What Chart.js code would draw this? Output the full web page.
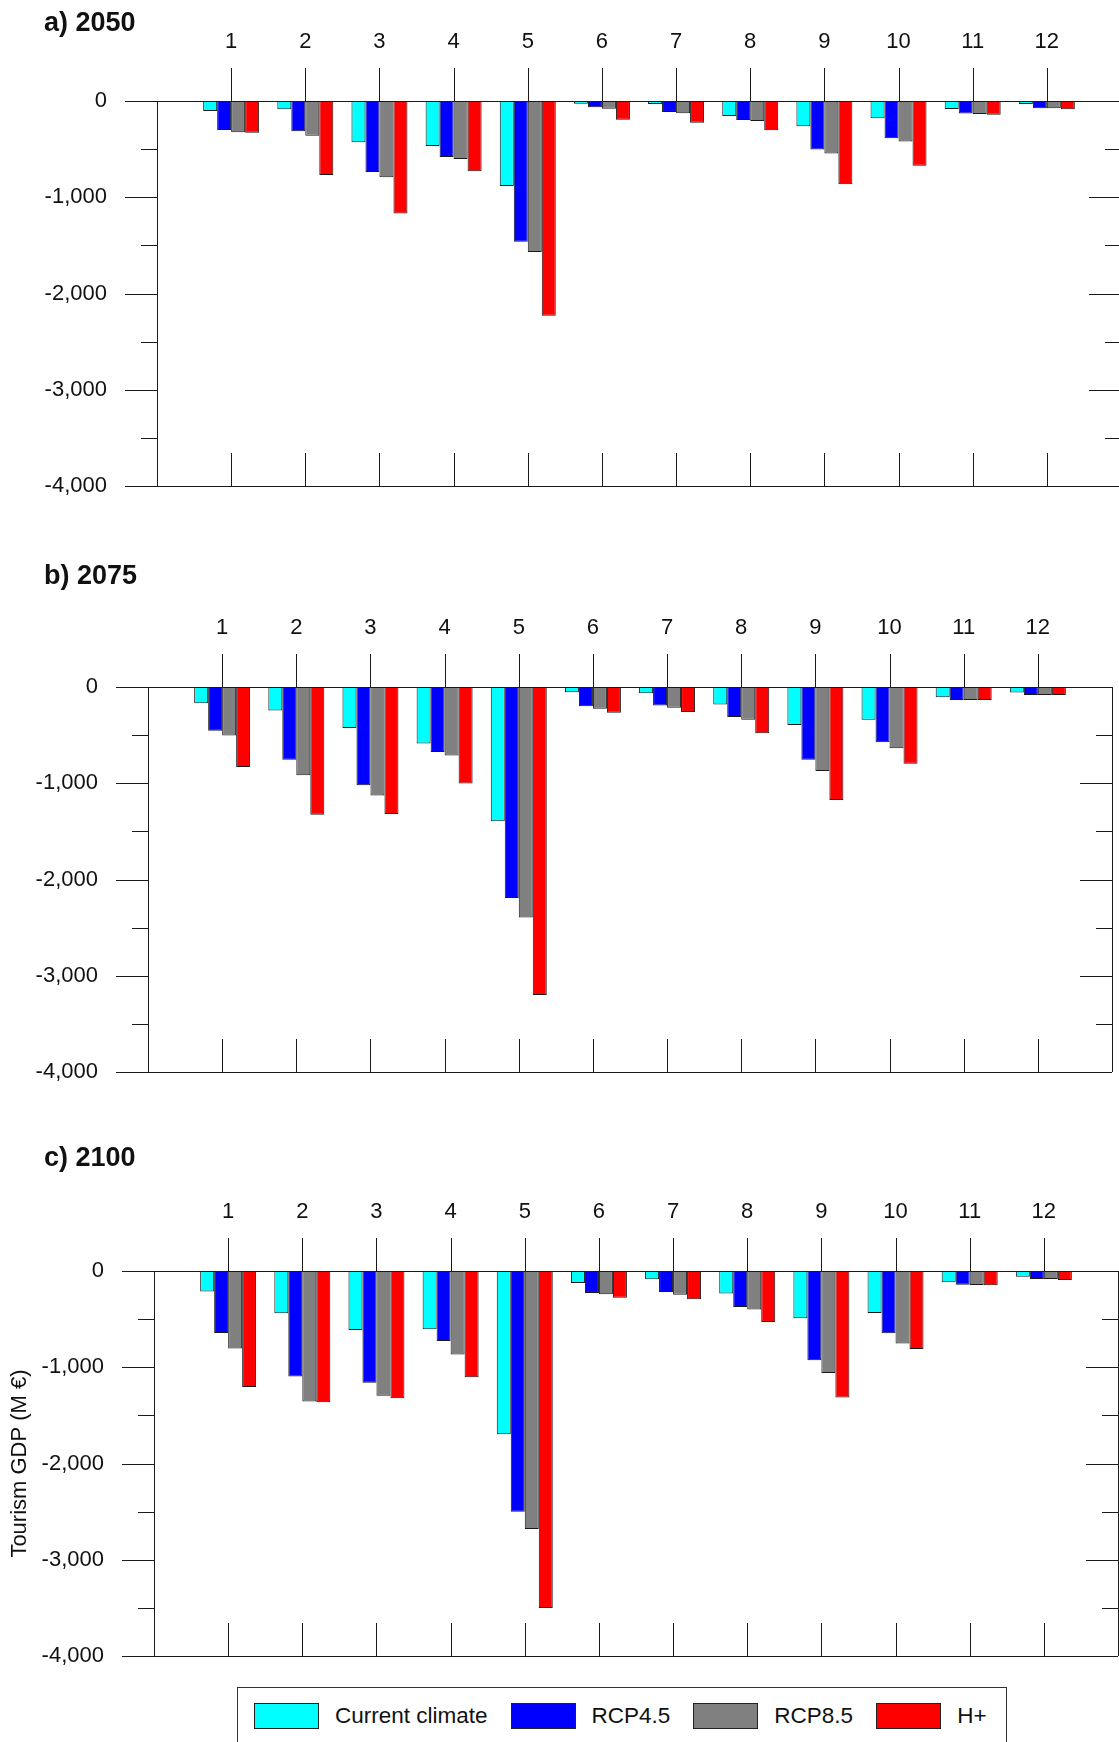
<!DOCTYPE html>
<html>
<head>
<meta charset="utf-8">
<title>Tourism GDP change by region</title>
<script src="https://cdn.jsdelivr.net/npm/chart.js@4.4.1/dist/chart.umd.min.js"></script>
<style>
  html, body { margin: 0; padding: 0; background: #fff; width: 1119px; height: 1742px; overflow: hidden; }
  canvas.panel { position: absolute; left: 0; }
  #legend {
    position: absolute; left: 237px; top: 1687px; width: 770px; height: 80px;
    box-sizing: border-box; border: 1px solid #333; background: #fff;
    display: flex; align-items: flex-start; padding: 15px 0 0 16px;
    font: 22.5px "Liberation Sans", Arial, sans-serif; color: #111; white-space: nowrap;
  }
  #legend .item { display: flex; align-items: center; flex: none; margin-right: 23px; height: 26px; }
  #legend .swatch { width: 65px; height: 26px; box-sizing: border-box; border: 1px solid #222; margin-right: 16px; flex: none; }
</style>
</head>
<body>
<canvas id="chart2050" class="panel" width="1130" height="510" style="top:0px"></canvas>
<canvas id="chart2075" class="panel" width="1119" height="550" style="top:540px"></canvas>
<canvas id="chart2100" class="panel" width="1119" height="560" style="top:1110px"></canvas>
<div id="legend"></div>
<script>
// Regions (x categories)
const regions = [1, 2, 3, 4, 5, 6, 7, 8, 9, 10, 11, 12];

// Series names and fill colours
const seriesNames = ['Current climate', 'RCP4.5', 'RCP8.5', 'H+'];
const seriesColors = ['#00FFFF', '#0000FF', '#808080', '#FF0000'];

// Change in tourism GDP (M €), 2050
const current2050 = [-104, -86, -429, -467, -882, -28, -31, -156, -263, -180, -83, -31];
const rcp45_2050  = [-301, -315, -737, -581, -1463, -66, -114, -197, -505, -387, -131, -76];
const rcp85_2050  = [-325, -360, -792, -602, -1570, -80, -128, -207, -546, -422, -135, -76];
const hplus2050   = [-329, -768, -1169, -730, -2230, -194, -225, -304, -864, -674, -142, -86];

// 2075
const current2075 = [-168, -243, -426, -587, -1395, -54, -64, -182, -394, -340, -107, -57];
const rcp45_2075  = [-454, -755, -1020, -676, -2193, -200, -193, -311, -755, -573, -136, -82];
const rcp85_2075  = [-504, -916, -1127, -712, -2394, -225, -215, -340, -873, -637, -136, -82];
const hplus2075   = [-830, -1327, -1320, -1002, -3199, -268, -261, -480, -1173, -798, -136, -82];

// 2100
const current2100 = [-212, -440, -614, -604, -1696, -125, -87, -235, -491, -436, -118, -59];
const rcp45_2100  = [-645, -1096, -1162, -728, -2501, -228, -218, -374, -927, -647, -142, -83];
const rcp85_2100  = [-805, -1356, -1297, -867, -2681, -242, -246, -401, -1059, -754, -145, -83];
const hplus2100   = [-1204, -1363, -1322, -1103, -3500, -277, -294, -529, -1315, -810, -149, -93];

// Value axis range and tick step
const yMin = -4000, yMax = 0, yStep = 500, yLabelStep = 1000;

Chart.defaults.font.family = '"Liberation Sans", Arial, sans-serif';
Chart.defaults.font.size = 22;
Chart.defaults.color = '#111';

const INK = '#1a1a1a';

// Tick marks: outward on the left axis, inward on the right axis,
// category marks above the zero line and up from the bottom frame.
const axisMarks = {
  id: 'axisMarks',
  afterDraw(chart) {
    const { ctx, chartArea: a, scales: { x, y } } = chart;
    const px = v => Math.round(v) + 0.5;
    ctx.save();
    ctx.strokeStyle = INK;
    ctx.lineWidth = 1;
    ctx.beginPath();
    y.ticks.forEach(t => {
      const yy = px(y.getPixelForValue(t.value));
      const len = t.value % yLabelStep === 0 ? 32 : 16;
      ctx.moveTo(a.left - len, yy); ctx.lineTo(a.left, yy);
      ctx.moveTo(a.right - len, yy); ctx.lineTo(a.right, yy);
    });
    x.ticks.forEach(t => {
      const xx = px(x.getPixelForValue(t.value));
      ctx.moveTo(xx, a.top - 33); ctx.lineTo(xx, a.top);
      ctx.moveTo(xx, a.bottom - 33); ctx.lineTo(xx, a.bottom);
    });
    const zero = px(y.getPixelForValue(0));
    ctx.moveTo(a.left, zero); ctx.lineTo(a.right, zero);
    ctx.moveTo(a.left, px(a.bottom)); ctx.lineTo(a.right, px(a.bottom));
    ctx.moveTo(px(a.right), a.top); ctx.lineTo(px(a.right), a.bottom);
    ctx.stroke();
    ctx.restore();
  }
};

// Panel heading such as "a) 2050"
const panelTitle = {
  id: 'panelTitle',
  afterDraw(chart, args, opts) {
    if (!opts || !opts.text) return;
    const { ctx } = chart;
    ctx.save();
    ctx.font = 'bold 27px "Liberation Sans", Arial, sans-serif';
    ctx.fillStyle = '#111';
    ctx.textBaseline = 'middle';
    ctx.textAlign = 'left';
    ctx.fillText(opts.text, opts.x, opts.y);
    ctx.restore();
  }
};

function makePanel(canvasId, heading, series, layout) {
  const datasets = series.map((vals, k) => ({
    label: seriesNames[k],
    data: regions.map((r, i) => ({ x: r, y: vals[i] })),
    backgroundColor: seriesColors[k],
    borderColor: INK,
    borderWidth: 1,
    borderSkipped: 'start',
    barPercentage: 1,
    categoryPercentage: 0.755
  }));

  return new Chart(document.getElementById(canvasId), {
    type: 'bar',
    data: { datasets },
    options: {
      responsive: false,
      animation: false,
      events: [],
      layout: { padding: { left: 0, top: 0, right: layout.padRight, bottom: layout.padBottom } },
      plugins: {
        legend: { display: false },
        tooltip: { enabled: false },
        panelTitle: { text: heading, x: 44, y: layout.titleY }
      },
      scales: {
        x: {
          type: 'linear',
          position: 'top',
          min: 0,
          max: regions.length + 1,
          offset: false,
          afterBuildTicks: s => { s.ticks = regions.map(r => ({ value: r })); },
          afterFit: s => { s.height = layout.axisTop; s.paddingLeft = 0; s.paddingRight = 0; },
          grid: { display: false, drawTicks: false, tickLength: 0, offset: false },
          border: { display: true, color: INK, width: 1 },
          ticks: { padding: 46, color: '#111', maxRotation: 0, autoSkip: false, callback: v => String(v) }
        },
        y: {
          min: yMin,
          max: yMax,
          afterFit: s => { s.width = layout.axisLeft; s.paddingTop = 0; s.paddingBottom = 0; },
          grid: { display: false, drawTicks: false, tickLength: 0 },
          border: { display: true, color: INK, width: 1 },
          ticks: {
            stepSize: yStep,
            padding: 50,
            color: '#111',
            callback: v => (v % yLabelStep === 0 ? v.toLocaleString('en-US') : '')
          },
          title: {
            display: !!layout.yTitle,
            text: layout.yTitle || '',
            color: '#111',
            font: { size: 22 },
            padding: { top: 7, bottom: 0 }
          }
        }
      }
    },
    plugins: [axisMarks, panelTitle]
  });
}

makePanel('chart2050', 'a) 2050',
  [current2050, rcp45_2050, rcp85_2050, hplus2050],
  { axisTop: 101, axisLeft: 157, padRight: 9, padBottom: 24, titleY: 24 });

makePanel('chart2075', 'b) 2075',
  [current2075, rcp45_2075, rcp85_2075, hplus2075],
  { axisTop: 147, axisLeft: 148, padRight: 7, padBottom: 18, titleY: 37 });

makePanel('chart2100', 'c) 2100',
  [current2100, rcp45_2100, rcp85_2100, hplus2100],
  { axisTop: 161, axisLeft: 154, padRight: 1, padBottom: 14, titleY: 49, yTitle: 'Tourism GDP (M €)' });

// Shared legend for the three panels
const legend = document.getElementById('legend');
seriesNames.forEach((name, k) => {
  const item = document.createElement('div');
  item.className = 'item';
  const sw = document.createElement('span');
  sw.className = 'swatch';
  sw.style.background = seriesColors[k];
  const label = document.createElement('span');
  label.textContent = name;
  item.appendChild(sw);
  item.appendChild(label);
  legend.appendChild(item);
});
</script>
</body>
</html>
